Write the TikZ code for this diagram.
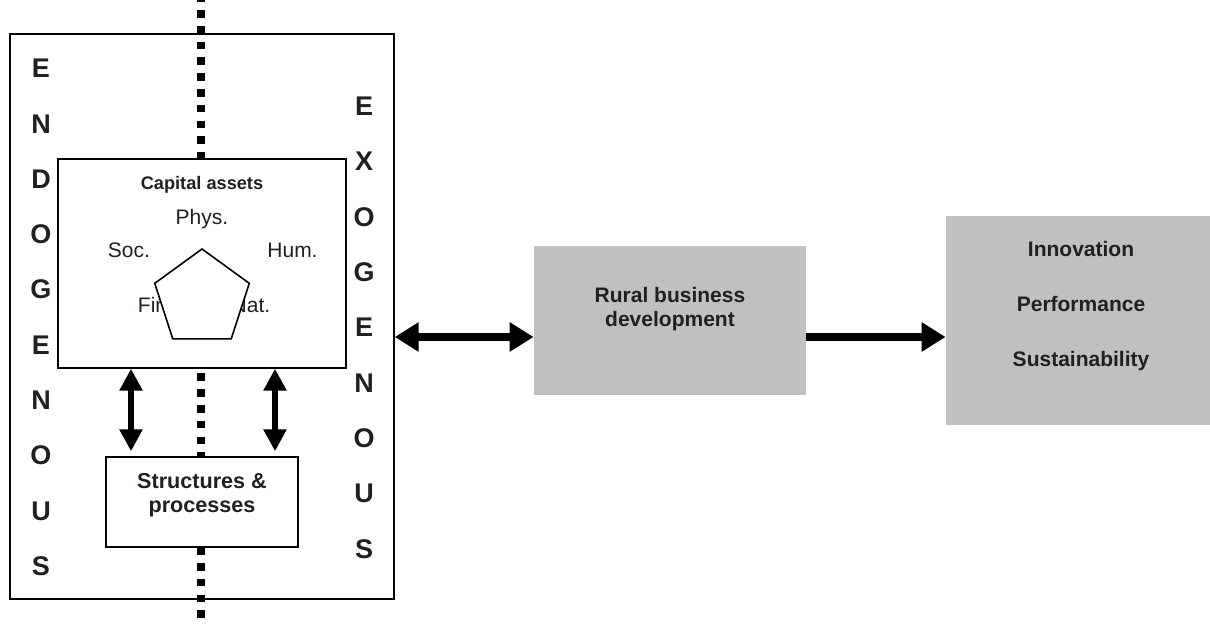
\documentclass[tikz,border=0pt]{standalone}
\usepackage{fontspec}
\setmainfont{Liberation Sans}
\usetikzlibrary{arrows.meta,positioning,shapes.geometric}
\definecolor{boxgray}{HTML}{C0C0C0}
\definecolor{inkdark}{HTML}{231F20}

\begin{document}
\begin{tikzpicture}[x=0.5pt,y=-0.5pt,
  frame/.style={draw=black,line width=0.7pt,inner sep=0pt},
  greybox/.style={fill=boxgray,draw=none,inner sep=0pt},
  lbl/.style={text=inkdark,font=\fontsize{10.5}{12.5}\selectfont,inner sep=0pt},
  blbl/.style={text=inkdark,font=\bfseries\fontsize{10.5}{12.3}\selectfont,inner sep=0pt,align=center},
  letter/.style={text=inkdark,font=\bfseries\fontsize{13.5}{16}\selectfont,inner sep=0pt},
  dotline/.style={line width=4pt,dash pattern=on 3.85pt off 4.05pt,dash phase=2.9pt},
  vdbl/.style={{Triangle[length=11pt,width=11pt]}-{Triangle[length=11pt,width=11pt]},line width=3.2pt},
  hdbl/.style={{Triangle[length=12pt,width=14pt]}-{Triangle[length=12pt,width=14pt]},line width=4.25pt},
  hsgl/.style={-{Triangle[length=12pt,width=14pt]},line width=4.25pt}]
\useasboundingbox (0,0) rectangle (1210,624);
% \draw[help lines] (0,0) grid (1210,624);
\coordinate (dtop) at (201,0);
\coordinate (dbot) at (201,624);
\draw[dotline] (dtop) -- (dbot);
%
\node (outer) [frame,minimum width=192pt,minimum height=282.5pt] at (202,316.5) {};
\foreach \ch [count=\i] in {E,N,D,O,G,E,N,O,U,S}
  \node (endo\i) [letter] at (41,{68.5+55.3*(\i-1)}) {\ch};
\foreach \ch [count=\i] in {E,X,O,G,E,N,O,U,S}
  \node (exo\i) [letter] at (364,{106+55.4*(\i-1)}) {\ch};
%
\node (cap) [frame,fill=white,minimum width=144pt,minimum height=104.5pt] at (202,263.5) {};
\node (captitle) [blbl,font=\bfseries\fontsize{9.1}{11}\selectfont,anchor=base] at (202,190) {Capital assets};
\node (phys) [lbl,anchor=base] at (202,225) {Phys.};
\node (soc) [lbl,anchor=base] at (129,258) {Soc.};
\node (hum) [lbl,anchor=base] at (292.5,258) {Hum.};
\node (fin) [lbl,anchor=base] at (155.5,313) {Fin.};
\node (nat) [lbl,anchor=base] at (251,313) {Nat.};
\node (pent) [draw,fill=white,line width=0.8pt,regular polygon,regular polygon sides=5,
  minimum size=49.7pt,inner sep=0pt,outer sep=0pt] at (202,298.7) {};
%
\node (struct) [frame,fill=white,minimum width=96pt,minimum height=45pt] at (202,502) {};
\node (structtxt) [blbl,font=\bfseries\fontsize{10.8}{12}\selectfont] at (202,495) {Structures \&\\processes};
%
\node (rural) [greybox,minimum width=136pt,minimum height=74.5pt] at (670,320.5) {};
\node (ruraltxt) [blbl] at (670,309) {Rural business\\development};
%
\node (outc) [greybox,minimum width=132pt,minimum height=104.5pt] at (1078,320.5) {};
\node (innov) [blbl,anchor=base] at (1081,257) {Innovation};
\node (perf) [blbl,anchor=base] at (1081,312) {Performance};
\node (sust) [blbl,anchor=base] at (1081,367) {Sustainability};
%
\coordinate (la) at (131,0);
\coordinate (ra) at (275,0);
\coordinate (hy) at (0,337);
\draw[vdbl,shorten >=2.5pt] (cap.south -| la) -- (struct.north -| la);
\draw[vdbl,shorten >=2.5pt] (cap.south -| ra) -- (struct.north -| ra);
\draw[hdbl] (outer.east |- hy) -- (rural.west |- hy);
\draw[hsgl] (rural.east |- hy) -- (outc.west |- hy);
\end{tikzpicture}
\end{document}
